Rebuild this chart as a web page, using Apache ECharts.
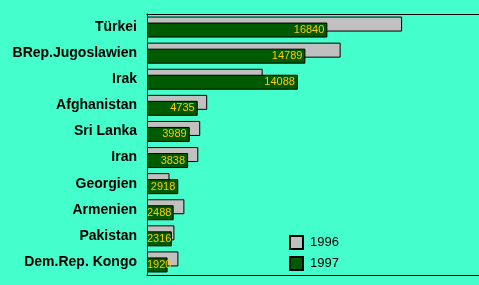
<!DOCTYPE html>
<html><head><meta charset="utf-8">
<script src="https://cdn.jsdelivr.net/npm/echarts@6/dist/echarts.min.js"></script>
<style>html,body{margin:0;padding:0;background:#44FFCC;}#c{width:479px;height:285px;}</style>
</head><body><div id="c"></div>
<script>
const categories = ["Türkei","BRep.Jugoslawien","Irak","Afghanistan","Sri Lanka","Iran","Georgien","Armenien","Pakistan","Dem.Rep. Kongo"];
const values1996 = [23820,18080,10800,5620,4970,4790,2100,3490,2560,2930];
const values1997 = [16840,14789,14088,4735,3989,3838,2918,2488,2316,1920];
const seriesNames = ["1996","1997"];

const AX_MAX = 31000, PLOT_W = 334;
const data1997 = values1997.map(v => {
  const px = v * PLOT_W / AX_MAX;
  return px < 29 ? {value: v, label: {position: 'insideLeft', distance: 0}} : v;
});

const edgeAxis = (pos) => ({
  type: 'value', position: pos, min: 0, max: AX_MAX,
  axisLine: {show: true, onZero: false, lineStyle: {color: '#000', width: 1}},
  axisTick: {show: false}, axisLabel: {show: false}, splitLine: {show: false}
});

const chart = echarts.init(document.getElementById('c'), null, {renderer: 'canvas'});
chart.setOption({
  backgroundColor: '#44FFCC',
  animation: false,
  grid: {left: 147, right: -2, top: 14, bottom: 10, show: false},
  legend: {
    orient: 'vertical', left: 284, top: 230, itemWidth: 13, itemHeight: 13, itemGap: 6,
    icon: 'rect',
    textStyle: {fontFamily: 'Liberation Sans', fontSize: 13, color: '#000', padding: [0,0,0,2]},
    data: seriesNames
  },
  xAxis: [edgeAxis('bottom'), edgeAxis('top')],
  yAxis: {
    type: 'category', data: categories, inverse: true,
    axisLine: {show: true, lineStyle: {color: '#000', width: 1}},
    axisTick: {show: false},
    axisLabel: {fontFamily: 'Liberation Sans', fontWeight: 'bold', fontSize: 14, color: '#000', margin: 10}
  },
  series: [
    {name: seriesNames[0], type: 'bar', data: values1996, barWidth: 15, barGap: '-60%',
     itemStyle: {color: '#C0C0C0', borderColor: '#000', borderWidth: 1}},
    {name: seriesNames[1], type: 'bar', data: data1997, barWidth: 15, barGap: '-60%',
     itemStyle: {color: '#005A00', borderColor: '#000', borderWidth: 1},
     label: {show: true, position: 'insideRight', distance: 3, color: '#FFCC00', fontFamily: 'Liberation Sans', fontSize: 11}}
  ]
});
</script></body></html>
